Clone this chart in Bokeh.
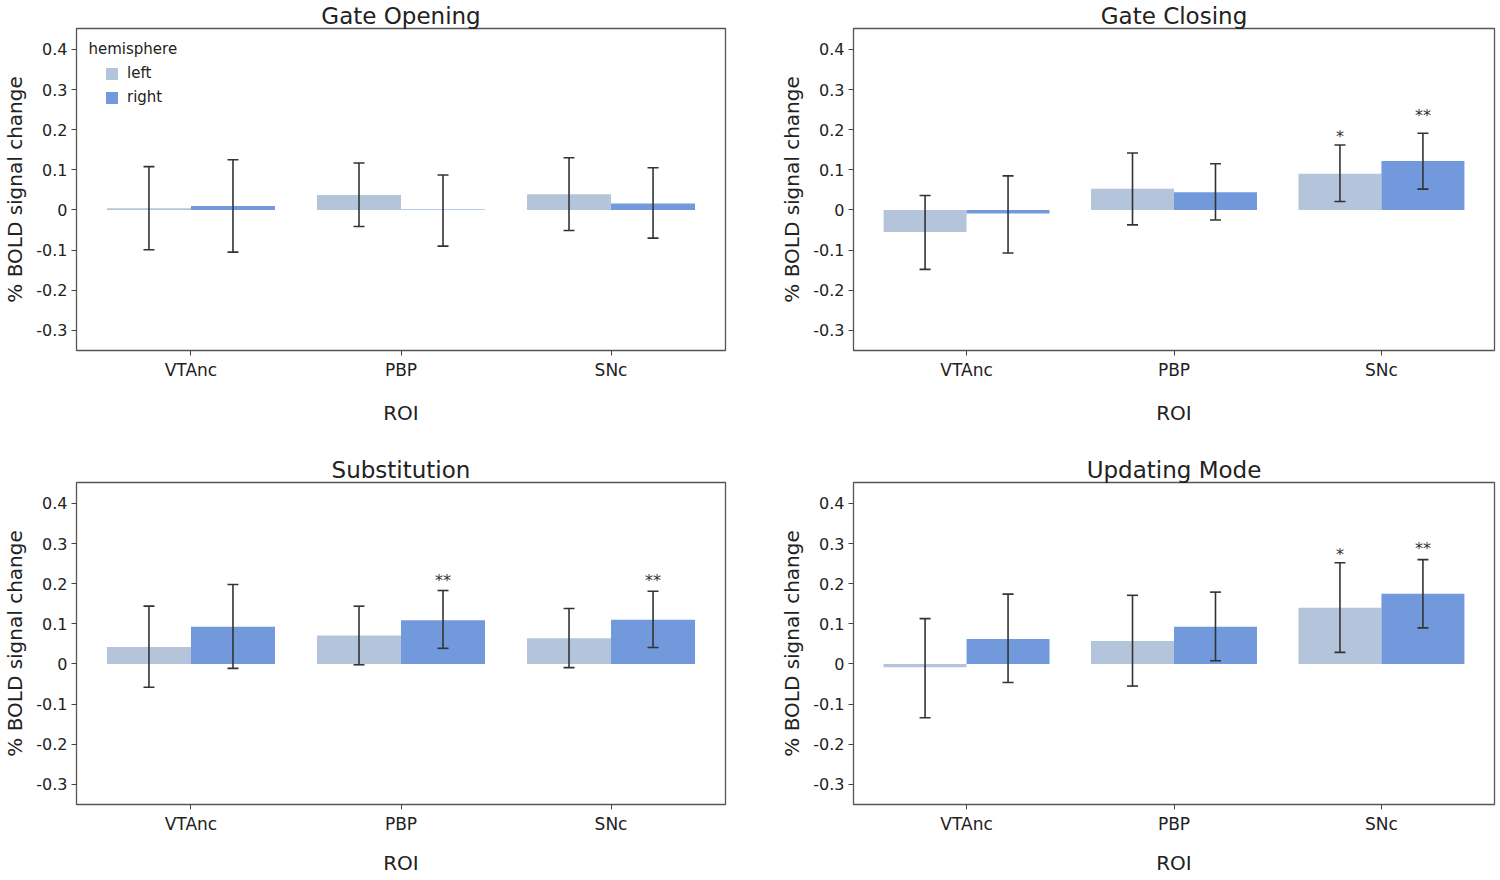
from bokeh.plotting import figure
from bokeh.models import ColumnDataSource, Range1d, FactorRange, FixedTicker, Whisker, TeeHead, Legend, LegendItem, Label
from bokeh.transform import dodge
from bokeh.layouts import gridplot
from bokeh.core.properties import value
from bokeh.embed import file_html
from bokeh.resources import INLINE

rois = ["VTAnc", "PBP", "SNc"]
hemispheres = ["left", "right"]
panel_titles = ["Gate Opening", "Gate Closing", "Substitution", "Updating Mode"]
yticks = [-0.3, -0.2, -0.1, 0.0, 0.1, 0.2, 0.3, 0.4]
ytick_labels = ["-0.3", "-0.2", "-0.1", "0", "0.1", "0.2", "0.3", "0.4"]

# Gate Opening
go_left = [0.004, 0.037, 0.039]
go_left_lo = [-0.099, -0.041, -0.051]
go_left_hi = [0.108, 0.117, 0.130]
go_right = [0.010, 0.001, 0.016]
go_right_lo = [-0.105, -0.090, -0.070]
go_right_hi = [0.125, 0.087, 0.105]
go_stars = []

# Gate Closing
gc_left = [-0.055, 0.053, 0.090]
gc_left_lo = [-0.148, -0.037, 0.021]
gc_left_hi = [0.036, 0.142, 0.162]
gc_right = [-0.009, 0.044, 0.122]
gc_right_lo = [-0.107, -0.025, 0.052]
gc_right_hi = [0.085, 0.115, 0.191]
gc_stars = [("SNc", "left", "*", 0.190), ("SNc", "right", "**", 0.243)]

# Substitution
su_left = [0.042, 0.071, 0.064]
su_left_lo = [-0.058, -0.002, -0.009]
su_left_hi = [0.144, 0.144, 0.138]
su_right = [0.093, 0.109, 0.110]
su_right_lo = [-0.011, 0.039, 0.041]
su_right_hi = [0.198, 0.183, 0.181]
su_stars = [("PBP", "right", "**", 0.215), ("SNc", "right", "**", 0.215)]

# Updating Mode
um_left = [-0.008, 0.057, 0.140]
um_left_lo = [-0.134, -0.055, 0.029]
um_left_hi = [0.113, 0.171, 0.252]
um_right = [0.062, 0.093, 0.175]
um_right_lo = [-0.046, 0.008, 0.090]
um_right_hi = [0.174, 0.179, 0.260]
um_stars = [("SNc", "left", "*", 0.281), ("SNc", "right", "**", 0.296)]

panels = [
    (go_left, go_left_lo, go_left_hi, go_right, go_right_lo, go_right_hi, go_stars),
    (gc_left, gc_left_lo, gc_left_hi, gc_right, gc_right_lo, gc_right_hi, gc_stars),
    (su_left, su_left_lo, su_left_hi, su_right, su_right_lo, su_right_hi, su_stars),
    (um_left, um_left_lo, um_left_hi, um_right, um_right_lo, um_right_hi, um_stars),
]

BAR_COLORS = {"left": "#b4c4da", "right": "#7199dc"}
OFFS = {"left": -0.2, "right": 0.2}
FONT = "DejaVu Sans"
TXT = "#222222"
FRAME_H = 322


def make_panel(idx, title, data):
    left, left_lo, left_hi, right, right_lo, right_hi, stars = data
    is_right = idx % 2 == 1
    is_bottom = idx >= 2
    p = figure(
        x_range=FactorRange(*rois, range_padding=0.045, range_padding_units="absolute"),
        y_range=Range1d(-0.35, 0.452),
        frame_width=641 if is_right else 649,
        frame_height=FRAME_H,
        output_backend="svg",
        toolbar_location=None,
        min_border_left=5,
        min_border_right=2 if is_right else 52,
        min_border_top=55 if is_bottom else 5,
        min_border_bottom=2,
    )
    p.title.text = title
    p.title.align = "center"
    p.title.text_font = FONT
    p.title.text_font_size = "23px"
    p.title.text_font_style = "normal"
    p.title.text_color = TXT
    p.title.standoff = 0

    series = {"left": (left, left_lo, left_hi), "right": (right, right_lo, right_hi)}
    bar_renderers = {}
    for h in hemispheres:
        m, lo, hi = series[h]
        src = ColumnDataSource(dict(roi=rois, m=m, lo=lo, hi=hi))
        bar_renderers[h] = p.vbar(x=dodge("roi", OFFS[h], range=p.x_range), top="m", bottom=0, width=0.4,
                                  source=src, fill_color=BAR_COLORS[h], line_color=None)
        w = Whisker(base=dodge("roi", OFFS[h], range=p.x_range), upper="hi", lower="lo",
                    source=src, line_color="#333333", line_width=1.6, level="overlay",
                    upper_head=TeeHead(size=11, line_color="#333333", line_width=1.6),
                    lower_head=TeeHead(size=11, line_color="#333333", line_width=1.6))
        p.add_layout(w)

    for h in hemispheres:
        sel = [s for s in stars if s[1] == h]
        if not sel:
            continue
        sub = ColumnDataSource(dict(roi=[s[0] for s in sel], txt=[s[2] for s in sel],
                                    y=[s[3] for s in sel]))
        p.text(x=dodge("roi", OFFS[h], range=p.x_range), y="y", text="txt", source=sub,
               text_font=value(FONT), text_font_size="16px", text_color="#333333",
               text_align="center", text_baseline="middle", y_offset=3)

    if idx == 0:
        items = [LegendItem(label=h, renderers=[bar_renderers[h]]) for h in hemispheres]
        leg = Legend(items=items, location=(24, 240),
                     label_text_font=FONT, label_text_font_size="15px",
                     label_text_color=TXT, border_line_alpha=0, background_fill_alpha=0,
                     glyph_width=15, glyph_height=15, label_standoff=8, spacing=6,
                     label_height=18, margin=0, padding=4)
        p.add_layout(leg)
        p.add_layout(Label(x=12, y=FRAME_H - 20, x_units="screen", y_units="screen",
                           text="hemisphere", text_font=FONT, text_font_size="15px",
                           text_color=TXT, text_baseline="middle"))

    p.xgrid.visible = False
    p.ygrid.visible = False
    p.outline_line_color = "#555555"
    p.outline_line_width = 1.3

    p.yaxis.ticker = FixedTicker(ticks=yticks)
    p.yaxis.major_label_overrides = {t: l for t, l in zip(yticks, ytick_labels)}
    p.yaxis.axis_label = "% BOLD signal change"
    p.xaxis.axis_label = "ROI"
    for ax in (p.xaxis, p.yaxis):
        ax.axis_line_color = None
        ax.major_tick_line_color = "#444444"
        ax.major_tick_out = 5
        ax.major_tick_in = 0
        ax.minor_tick_line_color = None
        ax.major_label_text_font = FONT
        ax.major_label_text_color = TXT
        ax.axis_label_text_font = FONT
        ax.axis_label_text_font_style = "normal"
        ax.axis_label_text_color = TXT
        ax.axis_label_text_font_size = "20px"
        ax.major_label_standoff = 4
    p.yaxis.major_label_text_font_size = "16px"
    p.xaxis.major_label_text_font_size = "17px"
    p.yaxis.axis_label_standoff = 6
    p.xaxis.axis_label_standoff = 14 if is_bottom else 18
    return p


figs = [make_panel(i, t, d) for i, (t, d) in enumerate(zip(panel_titles, panels))]
grid = gridplot([[figs[0], figs[1]], [figs[2], figs[3]]], toolbar_location=None)

open("out.html", "w").write(file_html(grid, INLINE))
